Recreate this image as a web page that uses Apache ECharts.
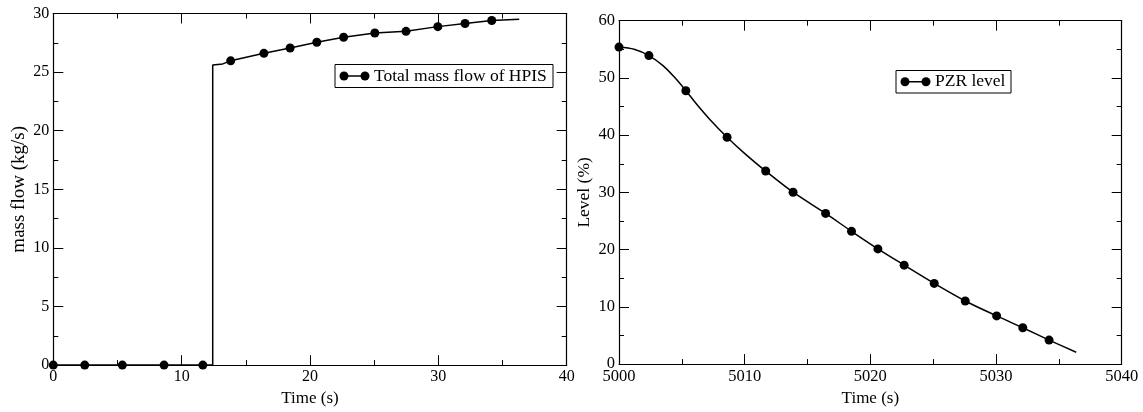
<!DOCTYPE html>
<html>
<head>
<meta charset="utf-8">
<title>HPIS mass flow and PZR level</title>
<script src="https://cdn.jsdelivr.net/npm/echarts@6/dist/echarts.min.js"></script>
<style>
  html, body { margin: 0; padding: 0; background: #fff; }
  #chart { width: 1143px; height: 412px; }
</style>
</head>
<body>
<div id="chart"></div>
<script>
// Total mass flow of HPIS (left panel)
const flowTime  = [0, 2.45, 5.38, 8.63, 11.65, 12.42, 12.42, 13.2, 13.82, 16.41, 18.45, 20.53, 22.62, 25.05, 27.48, 29.96, 32.08, 34.16, 36.3];
const flowValue = [0, 0, 0, 0, 0, 0, 25.6, 25.7, 25.96, 26.6, 27.06, 27.55, 27.97, 28.34, 28.48, 28.88, 29.15, 29.4, 29.51];
const flowMarker = [1, 1, 1, 1, 1, 0, 0, 0, 1, 1, 1, 1, 1, 1, 1, 1, 1, 1, 0];

// Pressurizer level (right panel)
const levelTime  = [5000, 5001.2, 5002.38, 5003.5, 5004.42, 5005.32, 5006.15, 5007.21, 5008.6, 5010.1, 5011.67, 5013.85, 5016.44, 5018.5, 5020.6, 5022.69, 5025.08, 5027.55, 5030.05, 5032.13, 5034.22, 5036.38];
const levelValue = [55.39, 55.0, 53.9, 52.15, 50.1, 47.77, 45.5, 42.8, 39.64, 36.6, 33.73, 30.03, 26.33, 23.2, 20.13, 17.29, 14.1, 11.03, 8.42, 6.35, 4.2, 2.07];
const levelMarker = [1, 0, 1, 0, 0, 1, 0, 0, 1, 0, 1, 1, 1, 1, 1, 1, 1, 1, 1, 1, 1, 0];

const flowName = 'Total mass flow of HPIS';
const levelName = 'PZR level';
const xTitle = 'Time (s)';
const flowAxisTitle = 'mass flow (kg/s)';
const levelAxisTitle = 'Level (%)';

const FONT = 'Liberation Serif';

function toPoints(ts, vs, marks) {
  return ts.map((t, i) => marks[i]
    ? { value: [t, vs[i]] }
    : { value: [t, vs[i]], symbol: 'none' });
}

function axisBase(gridIndex, min, max, interval, position, showLabel, labelSize) {
  return {
    type: 'value',
    gridIndex,
    min, max, interval,
    position,
    axisLine: { show: true, onZero: false, lineStyle: { color: '#000', width: 1.2 } },
    axisTick: { show: true, inside: true, length: 10, lineStyle: { color: '#000', width: 1 } },
    minorTick: { show: true, splitNumber: 2, length: 5, lineStyle: { color: '#000', width: 1 } },
    splitLine: { show: false },
    minorSplitLine: { show: false },
    axisLabel: {
      show: showLabel,
      fontFamily: FONT, fontSize: labelSize, color: '#000', margin: 4,
      formatter: v => String(v)
    }
  };
}

function xAxes(gridIndex, min, max, interval, labelSize) {
  const bottom = axisBase(gridIndex, min, max, interval, 'bottom', true, labelSize);
  bottom.name = xTitle;
  bottom.nameLocation = 'middle';
  bottom.nameGap = 19;
  bottom.nameTextStyle = { fontFamily: FONT, fontSize: 17, color: '#000' };
  const top = axisBase(gridIndex, min, max, interval, 'top', false, labelSize);
  return [bottom, top];
}

function yAxes(gridIndex, min, max, interval, title, labelSize, titleSize, gap) {
  const left = axisBase(gridIndex, min, max, interval, 'left', true, labelSize);
  left.name = title;
  left.nameLocation = 'middle';
  left.nameGap = gap;
  left.nameTextStyle = { fontFamily: FONT, fontSize: titleSize, color: '#000' };
  const right = axisBase(gridIndex, min, max, interval, 'right', false, labelSize);
  return [left, right];
}

function legendBox(x, y, w, h, label) {
  const cy = y + h / 2;
  const c1 = x + 9, c2 = x + 30;
  return {
    type: 'group',
    children: [
      { type: 'rect', shape: { x, y, width: w, height: h },
        style: { fill: '#fff', stroke: '#000', lineWidth: 1 } },
      { type: 'line', shape: { x1: c1, y1: cy, x2: c2, y2: cy },
        style: { stroke: '#000', lineWidth: 1.5 } },
      { type: 'circle', shape: { cx: c1, cy, r: 4.5 }, style: { fill: '#000' } },
      { type: 'circle', shape: { cx: c2, cy, r: 4.5 }, style: { fill: '#000' } },
      { type: 'text', x: x + 39, y: cy,
        style: { text: label, font: '17.5px "' + FONT + '"', fill: '#000',
                 verticalAlign: 'middle' } }
    ]
  };
}

const lineSeries = (name, xi, yi, ts, vs, marks, smooth) => ({
  name,
  type: 'line',
  xAxisIndex: xi,
  yAxisIndex: yi,
  data: toPoints(ts, vs, marks),
  smooth,
  symbol: 'circle',
  symbolSize: 9,
  showAllSymbol: true,
  itemStyle: { color: '#000' },
  lineStyle: { color: '#000', width: 1.5 },
  clip: false,
  z: 3
});

const chart = echarts.init(document.getElementById('chart'), null, { renderer: 'canvas' });
chart.setOption({
  animation: false,
  backgroundColor: '#fff',
  grid: [
    { left: 53.3, top: 13.5, width: 513.4, height: 358.2 },
    { left: 619, top: 20.7, width: 502.7, height: 351.6 }
  ],
  xAxis: [
    ...xAxes(0, 0, 40, 10, 16),
    ...xAxes(1, 5000, 5040, 10, 16.5)
  ],
  yAxis: [
    ...yAxes(0, 0, 30, 5, flowAxisTitle, 16, 19, 25),
    ...yAxes(1, 0, 60, 10, levelAxisTitle, 16.5, 17.5, 26)
  ],
  series: [
    lineSeries(flowName, 0, 0, flowTime, flowValue, flowMarker, false),
    lineSeries(levelName, 2, 2, levelTime, levelValue, levelMarker, 0.3)
  ],
  graphic: [
    legendBox(335, 64.5, 218, 23, flowName),
    legendBox(896, 70.5, 115, 22.5, levelName)
  ]
});
</script>
</body>
</html>
